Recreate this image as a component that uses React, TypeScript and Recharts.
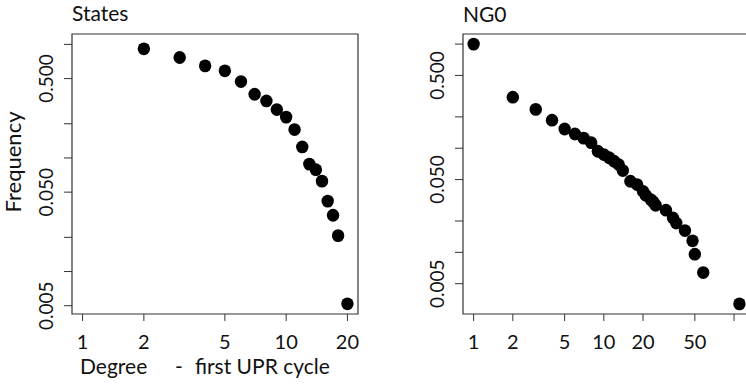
import React from 'react';
import { ScatterChart, Scatter, XAxis, YAxis, ReferenceArea } from 'recharts';

// ---- Data ----
const statesDegree = [2, 3, 4, 5, 6, 7, 8, 9, 10, 11, 12, 13, 14, 15, 16, 17, 18, 20];
const statesFreq = [0.914, 0.767, 0.647, 0.585, 0.471, 0.364, 0.318, 0.267, 0.229, 0.178, 0.125, 0.0883, 0.0789, 0.0625, 0.0417, 0.0313, 0.0207, 0.0052];

const ng0Degree = [1, 2, 3, 4, 5, 6, 7, 8, 9, 10, 11, 12, 13, 14, 16, 18, 20, 21, 23, 24, 25, 30, 34, 36, 42, 48, 50, 58, 110];
const ng0Freq = [1.0, 0.309, 0.236, 0.186, 0.153, 0.137, 0.125, 0.113, 0.0935, 0.0869, 0.081, 0.075, 0.0697, 0.061, 0.0482, 0.0448, 0.0386, 0.0353, 0.032, 0.0305, 0.0283, 0.0254, 0.0214, 0.0191, 0.0162, 0.0129, 0.0096, 0.0064, 0.0032];

const statesXTicks = [1, 2, 5, 10, 20];
const ng0XTicks = [1, 2, 5, 10, 20, 50, 100];
const ng0XLabeled = [1, 2, 5, 10, 20, 50];
const yTicks = [1, 0.5, 0.2, 0.1, 0.05, 0.02, 0.01, 0.005];
const yLabeled = [0.5, 0.05, 0.005];

const titles = ['States', 'NG0'];
const yTitle = 'Frequency';

const statesData = statesDegree.map((d, i) => ({ x: d, y: statesFreq[i] }));
const ng0Data = ng0Degree.map((d, i) => ({ x: d, y: ng0Freq[i] }));

const FONT = 'Lato, "Open Sans", sans-serif';
const AX = '#333';
const TXT = '#111';

const Dot = (props: any) => {
  const { cx, cy } = props;
  if (cx == null || cy == null) return <g />;
  return <ellipse cx={cx} cy={cy} rx={6.2} ry={6.4} fill="#000" />;
};

const makeXTick = (labeled: number[]) => (props: any) => {
  const { x, y, payload } = props;
  const v = payload.value;
  if (!labeled.some((l) => Math.abs(l - v) < 1e-9)) return <g />;
  return (
    <text x={x} y={y + 26} textAnchor="middle" fontFamily={FONT} fontSize={20} fill={TXT}>
      {String(v)}
    </text>
  );
};

const YTick = (props: any) => {
  const { x, y, payload } = props;
  const v = payload.value;
  if (!yLabeled.some((l) => Math.abs(l - v) < 1e-12)) return <g />;
  const bx = x - 9;
  return (
    <text
      transform={`translate(${bx},${y}) rotate(-90)`}
      textAnchor="middle"
      fontFamily={FONT}
      fontSize={19}
      fill={TXT}
    >
      {v.toFixed(3)}
    </text>
  );
};

const p10 = (e: number) => Math.pow(10, e);

type PanelProps = {
  data: { x: number; y: number }[];
  width: number;
  margin: { top: number; left: number; right: number; bottom: number };
  xDomain: [number, number];
  yDomain: [number, number];
  xTicks: number[];
  xLabeled: number[];
};

const Panel = ({ data, width, margin, xDomain, yDomain, xTicks, xLabeled }: PanelProps) => (
  <ScatterChart width={width} height={384} margin={margin}>
    <XAxis
      type="number"
      dataKey="x"
      scale="log"
      domain={xDomain}
      allowDataOverflow
      ticks={xTicks}
      interval={0}
      height={1}
      axisLine={false}
      tickLine={{ stroke: AX, strokeWidth: 1 }}
      tickSize={7}
      tick={makeXTick(xLabeled)}
    />
    <YAxis
      type="number"
      dataKey="y"
      scale="log"
      domain={yDomain}
      allowDataOverflow
      ticks={yTicks}
      interval={0}
      width={1}
      axisLine={false}
      tickLine={{ stroke: AX, strokeWidth: 1 }}
      tickSize={8}
      tick={YTick}
    />
    <ReferenceArea
      x1={xDomain[0]}
      x2={xDomain[1]}
      y1={yDomain[0]}
      y2={yDomain[1]}
      fill="none"
      stroke={AX}
      strokeWidth={1.2}
      ifOverflow="visible"
    />
    <Scatter data={data} fill="#000" shape={Dot} isAnimationActive={false} />
  </ScatterChart>
);

export default function App() {
  return (
    <div style={{ position: 'relative', width: 746, height: 384, overflow: 'hidden', background: '#fff' }}>
      <style>{'body{margin:0}'}</style>
      <div style={{ position: 'absolute', left: 0, top: 0 }}>
        <Panel
          data={statesData}
          width={373}
          margin={{ top: 34, left: 71, right: 15, bottom: 69 }}
          xDomain={[p10(-0.052), p10(1.353)]}
          yDomain={[p10(-2.374), p10(0.0916)]}
          xTicks={statesXTicks}
          xLabeled={statesXTicks}
        />
      </div>
      <div style={{ position: 'absolute', left: 373, top: 0 }}>
        <Panel
          data={ng0Data}
          width={400}
          margin={{ top: 34, left: 89, right: 23, bottom: 69 }}
          xDomain={[p10(-0.0816), p10(2.1226)]}
          yDomain={[p10(-2.592), p10(0.097)]}
          xTicks={ng0XTicks}
          xLabeled={ng0XLabeled}
        />
      </div>
      <svg
        width={746}
        height={384}
        style={{ position: 'absolute', left: 0, top: 0, pointerEvents: 'none' }}
      >
        <text x={72} y={21} fontFamily={FONT} fontSize={21} fill={TXT}>{titles[0]}</text>
        <text x={463} y={22} fontFamily={FONT} fontSize={21} fill={TXT}>{titles[1]}</text>
        <text
          transform="translate(21,162) rotate(-90)"
          textAnchor="middle"
          fontFamily={FONT}
          fontSize={22}
          fill={TXT}
        >
          {yTitle}
        </text>
        <text x={80} y={374} fontFamily={FONT} fontSize={21} fill={TXT}>Degree</text>
        <text x={175} y={374} fontFamily={FONT} fontSize={21} fill={TXT}>-</text>
        <text x={195} y={374} fontFamily={FONT} fontSize={21} fill={TXT}>first UPR cycle</text>
      </svg>
    </div>
  );
}
